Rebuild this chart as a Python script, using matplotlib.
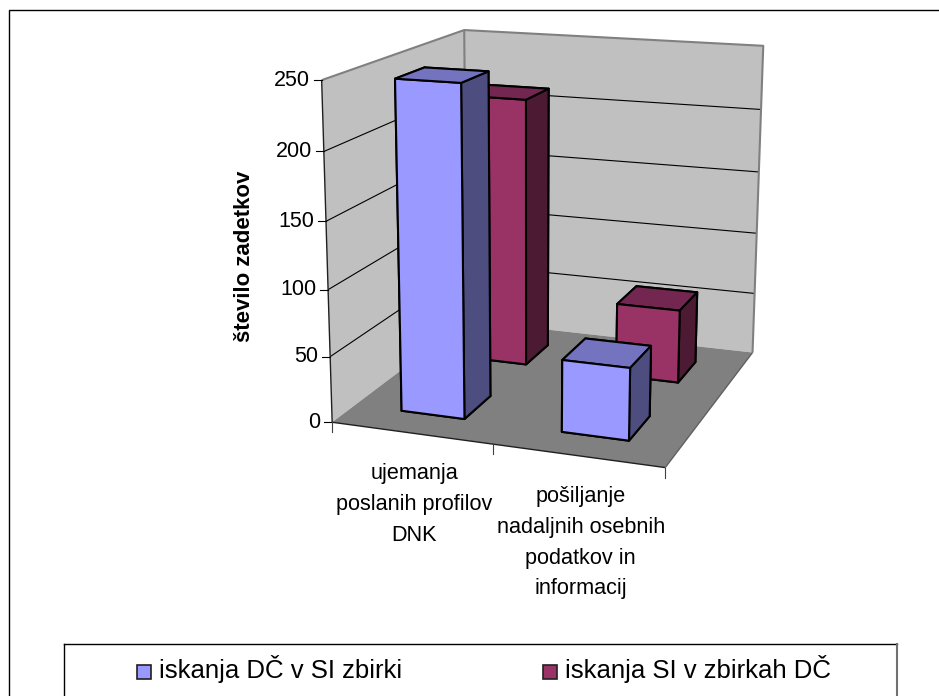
# 3-D column chart, Excel look: mplot3d with a camera fitted to the wall corners
import numpy as np
import matplotlib
matplotlib.use("Agg")
import matplotlib.pyplot as plt
from matplotlib.lines import Line2D
from matplotlib.patches import Rectangle
from mpl_toolkits.mplot3d.art3d import Line3DCollection, Poly3DCollection

W, H = 939, 696
plt.rcParams["font.family"] = ["Liberation Sans", "DejaVu Sans"]

categories = ["ujemanja\nposlanih profilov\nDNK",
              "pošiljanje\nnadaljnih osebnih\npodatkov in\ninformacij"]
series_names = ["iskanja DČ v SI zbirki", "iskanja SI v zbirkah DČ"]
series_values = [[247, 54], [213, 58]]
z_ticks = [0, 50, 100, 150, 200, 250]
y_title = "število zadetkov"

face_colors = [("#9999FF", "#7373BF", "#4D4D80"), ("#993366", "#732650", "#4D1A33")]

# box corners (x, y, z) -> where they sit in the picture, in pixels
XMAX, YMAX, ZMAX = 2.0, 2.0, 250.0
corners = [
    ((0, 0, 0), (333, 422)), ((0, 0, 1), (321, 80)),
    ((1, 0, 0), (665, 468)),
    ((0, 1, 0), (466, 321)), ((0, 1, 1), (465, 30)),
    ((1, 1, 0), (753, 352)), ((1, 1, 1), (763, 46)),
]
rows = []
for (X, Y, Z), (u, v) in corners:
    rows.append([X, Y, Z, 1, 0, 0, 0, 0, -u * X, -u * Y, -u * Z, -u])
    rows.append([0, 0, 0, 0, X, Y, Z, 1, -v * X, -v * Y, -v * Z, -v])
P = np.linalg.svd(np.array(rows, float))[2][-1].reshape(3, 4)
P = P / P[2, 3]
P[:, 0] /= XMAX
P[:, 1] /= YMAX
P[:, 2] /= ZMAX
M = np.vstack([P[0], P[1], P[2] - [0, 0, 0, 1], P[2]])


def to_px(x, y, z):
    u, v, w = P @ [x, y, z, 1]
    return u / w, v / w


def fx(px):
    return px / W


def fy(py):
    return 1 - py / H


def add_lines(ax, segments, color, lw, zorder):
    lines = Line3DCollection(segments, colors=color, linewidths=lw, zorder=zorder)
    ax.add_collection3d(lines, autolim=False)


fig = plt.figure(figsize=(W / 100, H / 100), dpi=100, facecolor="white")
# mplot3d wants a square axes, so let it stick out above and below the figure
ax = fig.add_axes([0, (H - W) / 2 / H, 1, W / H], projection="3d", computed_zorder=False)
ax.set_axis_off()
ax.get_proj = lambda: M
ax.viewLim.intervalx = (0, W)
ax.viewLim.intervaly = (H + (W - H) / 2, -(W - H) / 2)

# walls and floor
left_wall = [(0, 0, 0), (0, YMAX, 0), (0, YMAX, ZMAX), (0, 0, ZMAX)]
back_wall = [(0, YMAX, 0), (XMAX, YMAX, 0), (XMAX, YMAX, ZMAX), (0, YMAX, ZMAX)]
floor = [(0, 0, 0), (XMAX, 0, 0), (XMAX, YMAX, 0), (0, YMAX, 0)]
ax.add_collection3d(Poly3DCollection([left_wall, back_wall], facecolors="#C0C0C0", edgecolors="none", zorder=1))
grid = [[(0, 0, t), (0, YMAX, t), (XMAX, YMAX, t)] for t in z_ticks[1:-1]]
add_lines(ax, grid, "black", 0.8, 2)
add_lines(ax, [[(0, 0, ZMAX), (0, YMAX, ZMAX), (XMAX, YMAX, ZMAX), (XMAX, YMAX, 0)],
               [(0, YMAX, 0), (0, YMAX, ZMAX)]], "#808080", 1.5, 2)
ax.add_collection3d(Poly3DCollection([floor], facecolors="#808080", edgecolors="none", zorder=3))
add_lines(ax, [[(0, 0, 0), (0, 0, ZMAX)], [(0, 0, 0), (XMAX, 0, 0)]], "#202020", 1, 4)
add_lines(ax, [[(XMAX, 0, 0), (XMAX, YMAX, 0)]], "#606060", 1, 4)

# bars: back series first
bar_w = 0.4
for s in [1, 0]:
    front, top, side = face_colors[s]
    for c, val in enumerate(series_values[s]):
        ax.bar3d(c + 0.5 - bar_w / 2, s + 0.5 - bar_w / 2, 0, bar_w, bar_w, val,
                 color=[front, top, front, front, side, side], shade=False,
                 edgecolor="black", linewidth=1.5, zorder=5 + (1 - s) + 0.1 * c)

# value axis ticks and labels
for tick in z_ticks:
    px, py = to_px(0, 0, tick)
    fig.add_artist(Line2D([fx(px - 8), fx(px)], [fy(py), fy(py)], color="black", lw=0.8))
    fig.text(fx(px - 12), fy(py), str(tick), ha="right", va="center", fontsize=15.5)
fig.text(fx(244), fy(256), y_title, rotation=90, ha="center", va="center",
         fontsize=16, fontweight="bold")

# category axis ticks and labels
for c in range(len(categories) + 1):
    px, py = to_px(c, 0, 0)
    fig.add_artist(Line2D([fx(px), fx(px)], [fy(py), fy(py + 10)], color="#404040", lw=0.8))
for c, label in enumerate(categories):
    px, py = to_px(c + 0.5, 0, 0)
    fig.text(fx(px + 3), fy(py + 30), label, ha="center", va="top", multialignment="center",
             fontsize=15.6, linespacing=1.62)

# outer frame runs off the right and bottom of the picture
fig.add_artist(Rectangle((fx(8.5), fy(H + 10)), fx(W + 10), 1.0, fill=False,
                         edgecolor="black", lw=1, transform=fig.transFigure))

# legend box, also cut off at the bottom
fig.add_artist(Line2D([fx(64), fx(64)], [fy(644), fy(H + 5)], color="black", lw=1))
fig.add_artist(Line2D([fx(64), fx(897)], [fy(644), fy(644)], color="black", lw=1))
fig.add_artist(Line2D([fx(897), fx(897)], [fy(644), fy(H + 5)], color="#707070", lw=1.5))
for name, colors, sw_x, txt_x in zip(series_names, face_colors, [137, 543], [159, 565]):
    fig.add_artist(Rectangle((fx(sw_x), fy(679)), 14 / W, 14 / H, facecolor=colors[0],
                             edgecolor="#202020", lw=1.2, transform=fig.transFigure))
    fig.text(fx(txt_x), fy(678), name, ha="left", va="baseline", fontsize=18.5)

fig.savefig("out.png", dpi=100)
plt.close(fig)
